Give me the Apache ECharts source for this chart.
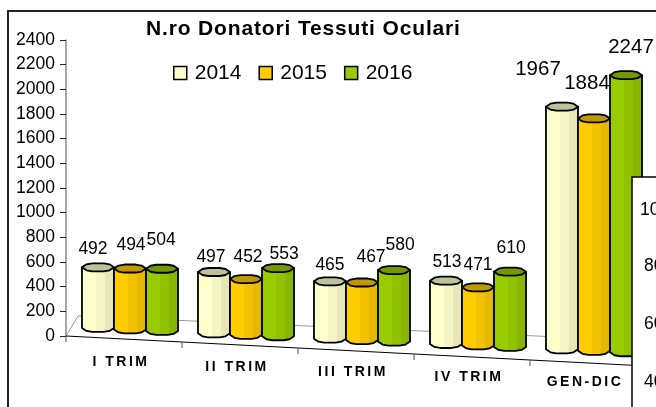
<!DOCTYPE html>
<html><head><meta charset="utf-8">
<style>html,body{margin:0;padding:0;background:#fff}#c{width:656px;height:407px}</style>
<script src="https://cdn.jsdelivr.net/npm/echarts@6/dist/echarts.min.js"></script>
</head><body><div id="c"></div>
<script>
const chartTitle = 'N.ro Donatori Tessuti Oculari';
const categories = ['I TRIM','II TRIM','III TRIM','IV TRIM','GEN-DIC'];
const years = ['2014','2015','2016'];
const values2014 = [492,497,465,513,1967];
const values2015 = [494,452,467,471,1884];
const values2016 = [504,553,580,610,2247];
const yTicks = [0,200,400,600,800,1000,1200,1400,1600,1800,2000,2200,2400];
const clippedTickLabels = ['100','80','60','40'];

// Hand placement of the value labels relative to each cylinder's cap
const labelNudge2014 = [[-5,-18],[-3,-15],[0,-16],[1,-19],[-24,-37]];
const labelNudge2015 = [[1,-23],[2,-22],[9,-25],[0,-22],[-7,-35]];
const labelNudge2016 = [[-1,-29],[6,-14],[6,-25],[1,-24],[5,-28]];
const labelFontSizes = [17.5,17.5,17.5,17.5,20.5];

const seriesValues = [values2014, values2015, values2016];
const nudges = [labelNudge2014, labelNudge2015, labelNudge2016];
const palette = [
  {a:'#FFFFCC',b:'#F3F3C3',c:'#E6E6B8',cap:'#C0C09A'},
  {a:'#FFCC00',b:'#F2C200',c:'#E6B800',cap:'#BF9900'},
  {a:'#99CC00',b:'#91C200',c:'#88B500',cap:'#739900'}
];
const FRONT_SKEW = 0.0517, BASE_SKEW = 0.046, BACK_SKEW = 0.0436;

// category labels and the title carry wide tracking in the reference
const nativeFill = CanvasRenderingContext2D.prototype.fillText;
CanvasRenderingContext2D.prototype.fillText = function (t, x, y, m) {
  const sp = categories.includes(t) ? '2.5px' : (t === chartTitle ? '0.85px' : null);
  if (sp) this.letterSpacing = sp;
  if (m === undefined) nativeFill.call(this, t, x, y); else nativeFill.call(this, t, x, y, m);
  if (sp) this.letterSpacing = '0px';
};

function capPts(x, y, r, h) {
  return [[x-r,y],[x-r*.72,y-h*.75],[x-r*.36,y-h],[x+r*.36,y-h],[x+r*.72,y-h*.75],[x+r,y],
          [x+r*.72,y+h*.75],[x+r*.36,y+h],[x-r*.36,y+h],[x-r*.72,y+h*.75]];
}
function cylinder(s) {
  return function (params, api) {
    const i = api.value(0), v = api.value(1);
    const band = api.size([1,0])[0];
    const zero = api.coord([i,0]);
    const top = api.coord([i,v]);
    const left0 = api.coord([0,0])[0] - band/2;
    const cx = zero[0] + 6 + (s-1)*band*0.276;
    const yb = zero[1] - 9.5 + BASE_SKEW*(cx-left0);
    const yt = yb - (zero[1]-top[1]);
    const r = band*0.138, h = 4;
    const p = palette[s];
    const body = [[cx-r,yt],[cx-r,yb]].concat([[cx-r*.72,yb+h*.75],[cx-r*.36,yb+h],[cx+r*.36,yb+h],[cx+r*.72,yb+h*.75],[cx+r,yb],[cx+r,yt]]);
    const zz = i*10 + s;
    return {type:'group',children:[
      {type:'polygon',z2:zz,shape:{points:body},style:{
        fill:{type:'linear',x:0,y:0,x2:1,y2:0,colorStops:[
          {offset:0,color:p.a},{offset:.45,color:p.a},{offset:.45,color:p.b},{offset:.72,color:p.b},{offset:.72,color:p.c},{offset:1,color:p.c}]},
        stroke:'#000',lineWidth:1.8,lineJoin:'round'}},
      {type:'polygon',z2:zz,shape:{points:capPts(cx,yt,r,h)},style:{fill:p.cap,stroke:'#000',lineWidth:1.8,lineJoin:'round'}},
      {type:'text',z2:1000,style:{text:String(v),x:cx+nudges[s][i][0],y:yt+nudges[s][i][1],
        align:'center',verticalAlign:'middle',fill:'#000',fontFamily:'Liberation Sans',fontSize:labelFontSizes[i]}}
    ]};
  };
}
function floor(params, api) {
  const band = api.size([1,0])[0];
  const o = api.coord([0,0]);
  const x0 = o[0]-band/2, y0 = o[1];
  const xEnd = api.coord([categories.length-1,0])[0]+band/2;
  const kids = [
    {type:'line',shape:{x1:x0,y1:y0,x2:x0+12,y2:y0-20},style:{stroke:'#999',lineWidth:1}},
    {type:'line',shape:{x1:x0+12,y1:y0-20,x2:xEnd,y2:y0-20+BACK_SKEW*(xEnd-x0-12)},style:{stroke:'#999',lineWidth:1}},
    {type:'line',shape:{x1:x0,y1:y0,x2:xEnd,y2:y0+FRONT_SKEW*(xEnd-x0)},style:{stroke:'#000',lineWidth:1}}
  ];
  for (let k=0;k<categories.length;k++){
    const tx = x0+k*band, ty = y0+FRONT_SKEW*(tx-x0);
    kids.push({type:'line',shape:{x1:tx,y1:ty,x2:tx,y2:ty+6},style:{stroke:'#555',lineWidth:1}});
  }
  return {type:'group',children:kids};
}

const chart = echarts.init(document.getElementById('c'),null,{renderer:'canvas',width:656,height:407});
const rich = {};
categories.forEach((c,i)=>{ rich['r'+i]={padding:[i*5,6,0,0],fontFamily:'Liberation Sans',fontWeight:'bold',fontSize:14,color:'#000'}; });
chart.setOption({
  animation:false,
  backgroundColor:'#fff',
  title:{text:chartTitle,left:146,top:19,padding:0,
    textStyle:{fontFamily:'Liberation Sans',fontWeight:'bold',fontSize:21,color:'#000'}},
  legend:{left:173,top:62.5,padding:0,itemWidth:13,itemHeight:13,itemGap:17,data:years,icon:'rect',
    itemStyle:{borderColor:'#000',borderWidth:1.5},
    textStyle:{fontFamily:'Liberation Sans',fontSize:21,color:'#000',padding:[0,0,0,3]}},
  grid:{left:66,right:10,top:40,bottom:71,containLabel:false},
  xAxis:{type:'category',data:categories,
    axisLine:{show:false},axisTick:{show:false},splitLine:{show:false},
    axisLabel:{interval:0,margin:19,hideOverlap:false,
      formatter:(t,i)=>`{r${i}|${t}}`,rich}},
  yAxis:{type:'value',min:0,max:2400,interval:200,
    axisLine:{show:true,lineStyle:{color:'#888',width:1.5}},
    axisTick:{show:true,length:6,lineStyle:{color:'#222',width:1}},
    splitLine:{show:false},
    axisLabel:{margin:11,padding:[2,0,0,0],fontFamily:'Liberation Sans',fontSize:17.5,color:'#000',
      formatter:v=>yTicks.includes(v)?String(v):''}},
  series:[
    {type:'custom',name:'floor',silent:true,z:1,coordinateSystem:'cartesian2d',renderItem:floor,data:[[0,0]],encode:{x:0,y:1}},
  ].concat(years.map((y,s)=>({
    type:'custom',name:y,z:2,coordinateSystem:'cartesian2d',renderItem:cylinder(s),
    itemStyle:{color:palette[s].a},encode:{x:0,y:1},
    data:seriesValues[s].map((v,i)=>[i,v])
  }))),
  graphic:[
    {type:'rect',z:50,shape:{x:8,y:11,width:660,height:410},style:{fill:'none',stroke:'#222',lineWidth:2},silent:true},
    {type:'rect',z:60,shape:{x:632,y:177,width:40,height:250},style:{fill:'#fff',stroke:'#000',lineWidth:1.5},silent:true}
  ].concat(clippedTickLabels.map((t,k)=>({type:'text',z:61,silent:true,
    style:{text:t,x:k===0?640:644,y:[210,266,324,382][k],verticalAlign:'middle',align:'left',
      fontFamily:'Liberation Sans',fontSize:17.5,fill:'#000'}})))
});
</script></body></html>
